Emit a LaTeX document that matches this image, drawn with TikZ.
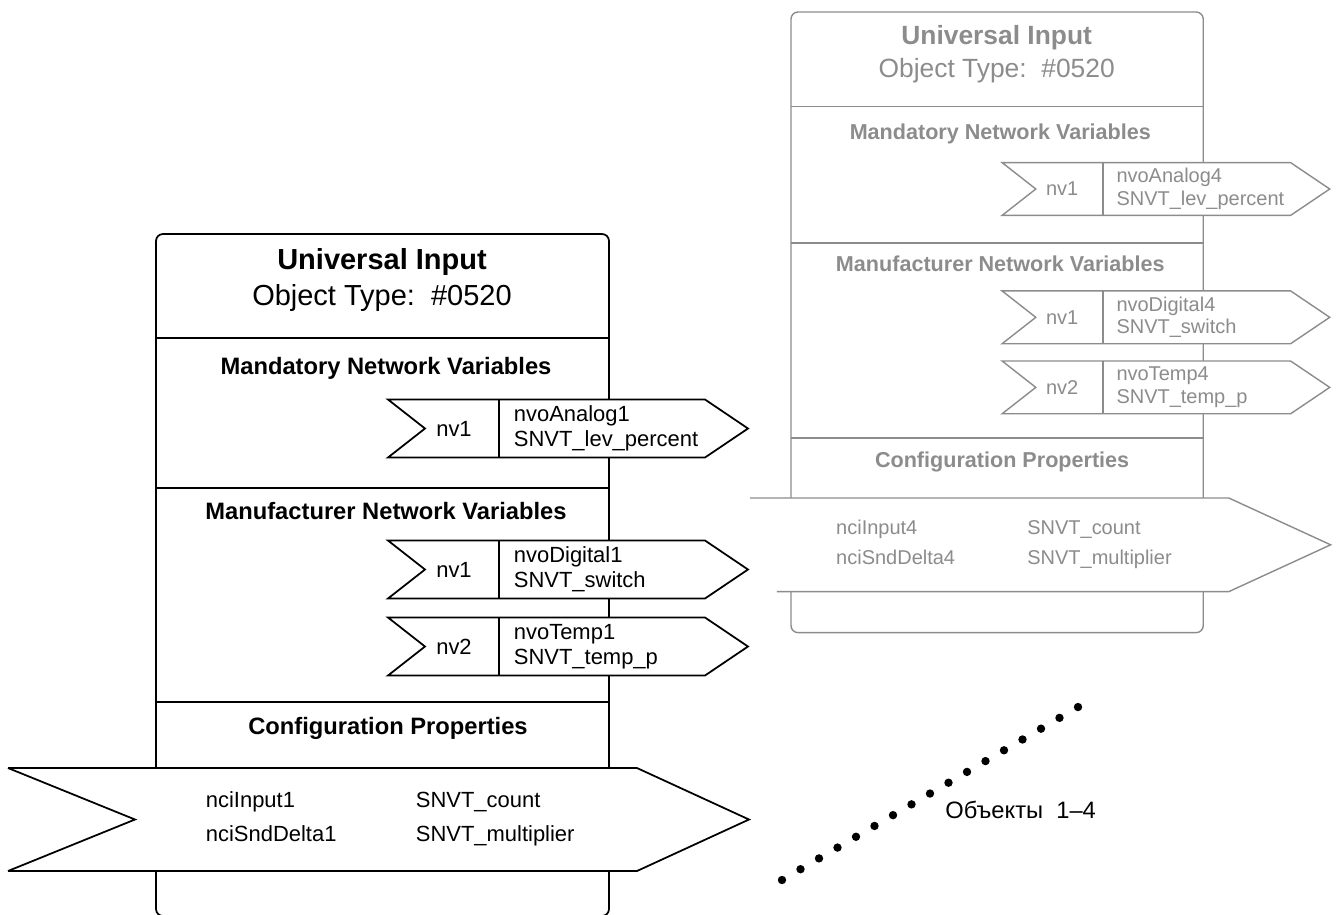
\documentclass[tikz,border=0pt]{standalone}
\usepackage{fontspec}
\setmainfont{Liberation Sans}
\usepackage{tikz}
\usetikzlibrary{positioning}
\definecolor{fadedgrey}{RGB}{140,140,140}

\begin{document}
\begin{tikzpicture}[
    x=0.02cm, y=-0.02cm,
    titletext/.style={font=\fontsize{16.5}{18}\selectfont\bfseries, inner sep=0pt},
    typetext/.style={font=\fontsize{16.5}{18}\selectfont, inner sep=0pt},
    sectiontext/.style={font=\fontsize{13.5}{15}\selectfont\bfseries, inner sep=0pt},
    nvtext/.style={font=\fontsize{12.5}{14}\selectfont, align=left, inner sep=0pt},
    cfgtext/.style={font=\fontsize{12.5}{19}\selectfont, align=left, inner sep=0pt, anchor=base west},
    dot/.style={fill=black}
  ]
  \useasboundingbox (0,0) rectangle (1336,914);

  % the two objects: front one in black, back one faded and smaller
  \foreach \ox/\oy/\sc/\col/\lw/\ob/\xt/\xb in {156/234/1/black/1pt/1/-148/-148, 791/12/0.91/fadedgrey/0.8pt/4/-45/-15.4} {
    \begin{scope}[shift={(\ox,\oy)}, scale=\sc, transform shape, color=\col, line width=\lw]
      \draw[rounded corners=4pt] (0,0) rectangle (453,682);
      \draw (0,104) -- (453,104) (0,254) -- (453,254) (0,468) -- (453,468);
      \node[titletext] (title\ob) at (226,28) {Universal Input};
      \node[typetext] (type\ob) at (226,64) {Object Type:\ \ \#0520};
      \node[sectiontext] (mand\ob) at (230,134) {Mandatory Network Variables};
      \node[sectiontext] (manu\ob) at (230,277) {Manufacturer Network Variables};
      \node[sectiontext] (conf\ob) at (232,494) {Configuration Properties};
      % network variable outputs
      \foreach \key/\ym/\vn/\sn/\lab in {a/194.5/nvoAnalog/SNVT\_lev\_percent/nv1, d/335.5/nvoDigital/SNVT\_switch/nv1, p/412.5/nvoTemp/SNVT\_temp\_p/nv2} {
        \filldraw[fill=white] (232,\ym-29) -- (549,\ym-29) -- (592,\ym) -- (549,\ym+29) -- (232,\ym+29) -- (269,\ym) -- cycle;
        \draw (343,\ym-29) -- (343,\ym+29);
        \node[nvtext] (nv\key\ob) at (298,\ym) {\lab};
        \node[nvtext, anchor=west] (var\key\ob) at (357,\ym) {\vn\ob\\\sn};
      }
      % configuration properties
      \fill[white] (\xt,534) -- (481,534) -- (593,585.5) -- (481,637) -- (\xb,637) -- cycle;
      \draw (\xt,534) -- (481,534) -- (593,585.5) -- (481,637) -- (\xb,637);
      \coordinate (cfgtop\ob) at (\xt,534);
      \coordinate (cfgbot\ob) at (\xb,637);
      \node[cfgtext] (cfgname\ob) at (49,607) {nciInput\ob\\nciSndDelta\ob};
      \node[cfgtext] (cfgtype\ob) at (259,607) {SNVT\_count\\SNVT\_multiplier};
    \end{scope}
  }
  \coordinate (notch) at (135,819.5);
  \draw[line width=1pt] (cfgtop1) -- (notch) -- (cfgbot1);

  % dotted link
  \foreach \i in {0,...,16}
    \fill[dot] (782+18.5*\i, 880-10.81*\i) circle (4.2);
  \node[anchor=west, font=\fontsize{13.5}{15}\selectfont, inner sep=0pt] (objects) at (945,810) {Объекты\ \ 1–4};
\end{tikzpicture}
\end{document}
